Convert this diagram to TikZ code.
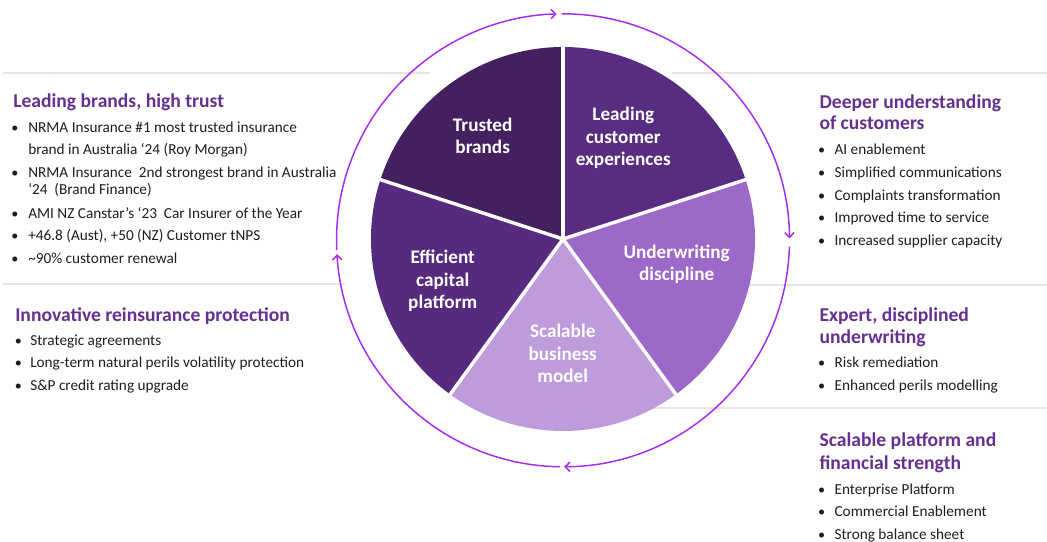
\documentclass[tikz,border=0pt]{standalone}
\usepackage{fontspec}
\setmainfont{Carlito}
\usetikzlibrary{arrows.meta}
\definecolor{wTrust}{HTML}{45205F}
\definecolor{wLead}{HTML}{582C80}
\definecolor{wUnder}{HTML}{9C69C9}
\definecolor{wScal}{HTML}{BE9BDB}
\definecolor{wEff}{HTML}{562A7E}
\definecolor{ringC}{HTML}{A52CF0}
\definecolor{headC}{HTML}{65308F}
\definecolor{bodyC}{HTML}{1E1E1E}
\definecolor{sepC}{HTML}{E9E4DF}
\tikzset{
  hd/.style={anchor=base west, inner sep=0pt, text=headC, font=\fontsize{14.7}{17}\selectfont\bfseries},
  bd/.style={anchor=base west, inner sep=0pt, text=bodyC, font=\fontsize{11.45}{14}\selectfont},
  bu/.style={anchor=base, inner sep=0pt, text=bodyC, font=\fontsize{10.6}{13}\selectfont},
  wl/.style={anchor=base, inner sep=0pt, text=white, font=\fontsize{14.4}{17}\selectfont\bfseries},
  sepline/.style={draw=sepC, line width=1.3pt},
  ring/.style={draw=ringC, line width=1.1pt, -{Straight Barb[length=3.5pt,width=7pt]}},
  cut/.style={draw=white, line width=2.6pt}
}
\begin{document}
\begin{tikzpicture}[x=0.75pt,y=-0.75pt]
\useasboundingbox (0,0) rectangle (1047,542);
\coordinate (P) at (563,239);
\coordinate (C) at (563,240.3);
% separator lines
\coordinate (s1a) at (3,73);   \coordinate (s1b) at (430,73);
\coordinate (s2a) at (672,73); \coordinate (s2b) at (1047,73);
\coordinate (s3a) at (3,284);  \coordinate (s3b) at (345,284);
\coordinate (s4a) at (620,285); \coordinate (s4b) at (1047,285);
\coordinate (s5a) at (600,408); \coordinate (s5b) at (1047,408);
\draw[sepline] (s1a) -- (s1b);
\draw[sepline] (s2a) -- (s2b);
\draw[sepline] (s3a) -- (s3b);
\draw[sepline] (s4a) -- (s4b);
\draw[sepline] (s5a) -- (s5b);
% pie wedges (angles negated: y axis points down)
\fill[wTrust] (P) -- ++(-90:192) arc[start angle=-90,end angle=-162,radius=192] -- cycle;
\fill[wLead]  (P) -- ++(-18:192) arc[start angle=-18,end angle=-90,radius=192] -- cycle;
\fill[wUnder] (P) -- ++(54:192) arc[start angle=54,end angle=-18,radius=192] -- cycle;
\fill[wScal]  (P) -- ++(126:192) arc[start angle=126,end angle=54,radius=192] -- cycle;
\fill[wEff]   (P) -- ++(198:192) arc[start angle=198,end angle=126,radius=192] -- cycle;
\foreach \a in {-90,-18,54,126,198} \draw[cut] (P) -- ++(\a:194);
% ring arrows
\draw[ring] (C) ++(-182.5:226.5) arc[start angle=-182.5,end angle=-91.6,radius=226.5];
\draw[ring] (C) ++(-90.3:226.5) arc[start angle=-90.3,end angle=-0.5,radius=226.5];
\draw[ring] (C) ++(1.6:226.5) arc[start angle=1.6,end angle=89.7,radius=226.5];
\draw[ring] (C) ++(90.8:226.5) arc[start angle=90.8,end angle=176.5,radius=226.5];
% wedge labels
\node[wl] (t1) at (482.7,131.7) {Trusted};
\node[wl] (t2) at (482.7,154) {brands};
\node[wl] (l1) at (623.3,120.7) {Leading};
\node[wl] (l2) at (623.3,143.3) {customer};
\node[wl] (l3) at (623.3,165.7) {experiences};
\node[wl] (u1) at (676.7,258.3) {Underwriting};
\node[wl] (u2) at (676.7,280) {discipline};
\node[wl] (e1) at (442.7,263.3) {Efficient};
\node[wl] (e2) at (442.7,286.7) {capital};
\node[wl] (e3) at (442.7,308.3) {platform};
\node[wl] (c1) at (562.7,337.7) {Scalable};
\node[wl] (c2) at (562.7,360) {business};
\node[wl] (c3) at (562.7,382.7) {model};
% left block 1
\node[hd] (h1) at (13,107.3) {Leading brands, high trust};
\node[bu] (b11) at (15,132.3) {•};
\node[bd] (x11) at (28,132.3) {NRMA Insurance \#1 most trusted insurance};
\node[bd] (x12) at (28,155) {brand in Australia ‘24 (Roy Morgan)};
\node[bu] (b13) at (15,177.3) {•};
\node[bd] (x13) at (28,177.3) {NRMA Insurance~ 2nd strongest brand in Australia};
\node[bd] (x14) at (28,195) {‘24~ (Brand Finance)};
\node[bu] (b15) at (15,218.3) {•};
\node[bd] (x15) at (28,218.3) {AMI NZ Canstar’s ‘23~ Car Insurer of the Year};
\node[bu] (b16) at (15,240.7) {•};
\node[bd] (x16) at (28,240.7) {+46.8 (Aust), +50 (NZ) Customer tNPS};
\node[bu] (b17) at (15,263.3) {•};
\node[bd] (x17) at (28,263.3) {\textasciitilde90\% customer renewal};
% left block 2
\node[hd] (h2) at (15,321.7) {Innovative reinsurance protection};
\node[bu] (b21) at (18.3,345) {•};
\node[bd] (x21) at (30,345) {Strategic agreements};
\node[bu] (b22) at (18.3,367.7) {•};
\node[bd] (x22) at (30,367.7) {Long-term natural perils volatility protection};
\node[bu] (b23) at (18.3,390.7) {•};
\node[bd] (x23) at (30,390.7) {S\&P credit rating upgrade};
% right block 1
\node[hd] (h3a) at (819.3,108.3) {Deeper understanding};
\node[hd] (h3b) at (819.3,130) {of customers};
\node[bu] (b31) at (821.7,154.3) {•};
\node[bd] (x31) at (834.3,154.3) {AI enablement};
\node[bu] (b32) at (821.7,177.3) {•};
\node[bd] (x32) at (834.3,177.3) {Simplified communications};
\node[bu] (b33) at (821.7,200) {•};
\node[bd] (x33) at (834.3,200) {Complaints transformation};
\node[bu] (b34) at (821.7,222.7) {•};
\node[bd] (x34) at (834.3,222.7) {Improved time to service};
\node[bu] (b35) at (821.7,245.7) {•};
\node[bd] (x35) at (834.3,245.7) {Increased supplier capacity};
% right block 2
\node[hd] (h4a) at (819.3,321.7) {Expert, disciplined};
\node[hd] (h4b) at (819.3,343.3) {underwriting};
\node[bu] (b41) at (821.7,367.3) {•};
\node[bd] (x41) at (834.3,367.3) {Risk remediation};
\node[bu] (b42) at (821.7,390) {•};
\node[bd] (x42) at (834.3,390) {Enhanced perils modelling};
% right block 3
\node[hd] (h5a) at (819.3,446.7) {Scalable platform and};
\node[hd] (h5b) at (819.3,469.3) {financial strength};
\node[bu] (b51) at (821.7,494) {•};
\node[bd] (x51) at (834.3,494) {Enterprise Platform};
\node[bu] (b52) at (821.7,516.7) {•};
\node[bd] (x52) at (834.3,516.7) {Commercial Enablement};
\node[bu] (b53) at (821.7,539.3) {•};
\node[bd] (x53) at (834.3,539.3) {Strong balance sheet};
\end{tikzpicture}
\end{document}
